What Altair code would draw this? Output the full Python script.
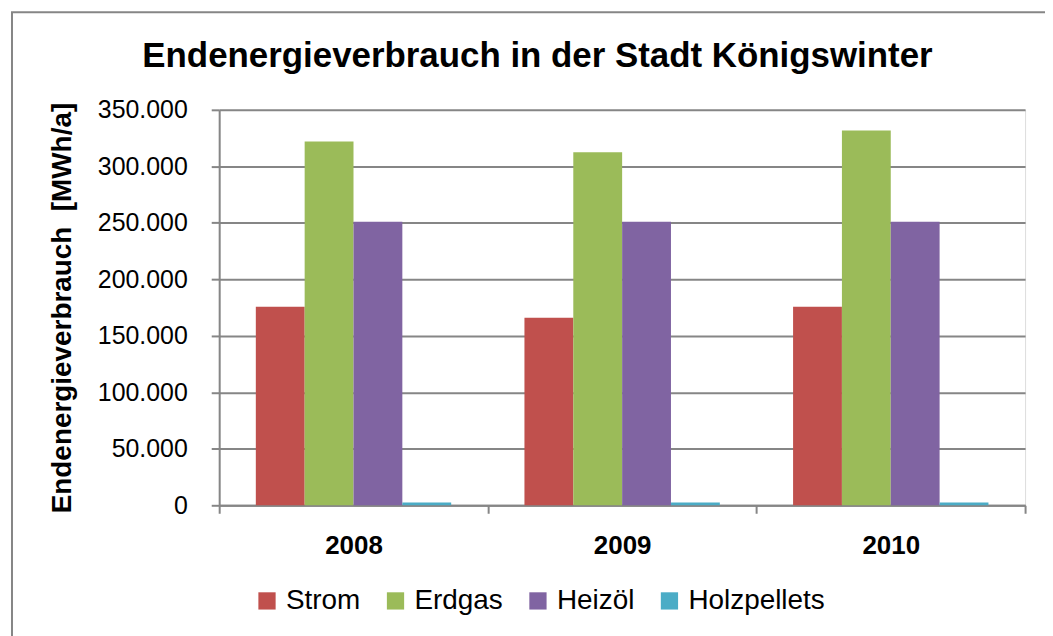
import altair as alt
import pandas as pd

years = ["2008", "2009", "2010"]
carriers = ["Strom", "Erdgas", "Heizöl", "Holzpellets"]
strom = [175700, 166000, 175700]
erdgas = [322000, 312500, 331600]
heizoel = [251000, 251000, 251000]
holzpellets = [2500, 2500, 2500]
colors = ["#C0504D", "#9BBB59", "#8064A2", "#4BACC6"]
y_ticks = [0, 50000, 100000, 150000, 200000, 250000, 300000, 350000]

series = {"Strom": strom, "Erdgas": erdgas, "Heizöl": heizoel, "Holzpellets": holzpellets}
rows = []
for c in carriers:
    for y, v in zip(years, series[c]):
        rows.append({"Jahr": y, "Träger": c, "Wert": v})
df = pd.DataFrame(rows)

FONT = "Liberation Sans"
GRAY = "#868686"
W, H = 809, 397

bars = alt.Chart(df).mark_bar().encode(
    x=alt.X("Jahr:N", sort=years,
            scale=alt.Scale(paddingInner=0, paddingOuter=0),
            axis=alt.Axis(title=None, tickBand="extent", labelAngle=0,
                          labelFont=FONT, labelFontSize=26, labelFontWeight="bold",
                          labelColor="#000000", labelBaseline="alphabetic",
                          labelPadding=40, tickSize=8, tickColor=GRAY,
                          tickWidth=2, domainColor=GRAY, domainWidth=2)),
    xOffset=alt.XOffset("Träger:N", sort=carriers,
                        scale=alt.Scale(paddingInner=0, paddingOuter=0.75)),
    y=alt.Y("Wert:Q",
            scale=alt.Scale(domain=[0, 350000], nice=False),
            axis=alt.Axis(title="Endenergieverbrauch\u00a0 [MWh/a]", values=y_ticks,
                          labelExpr="replace(format(datum.value, ','), ',', '.')",
                          labelFont=FONT, labelFontSize=25, labelColor="#000000",
                          labelPadding=24, tickSize=8, tickColor=GRAY, tickWidth=2,
                          domainColor=GRAY, domainWidth=2,
                          grid=True, gridColor=GRAY, gridWidth=2,
                          titleFont=FONT, titleFontSize=28, titleFontWeight="bold",
                          titleColor="#000000", titleX=-149, titleY=H / 2,
                          titleAngle=-90, titleBaseline="alphabetic", titleAlign="center")),
    color=alt.Color("Träger:N", sort=carriers,
                    scale=alt.Scale(domain=carriers, range=colors),
                    legend=alt.Legend(title=None, orient="none", direction="horizontal",
                                      legendX=34, legendY=479, padding=0,
                                      symbolType="square", symbolSize=300,
                                      symbolStrokeWidth=0, symbolOpacity=1,
                                      labelFont=FONT, labelFontSize=28,
                                      labelColor="#000000", labelOffset=5,
                                      columnPadding=21)),
)

frame = alt.Chart(pd.DataFrame({"k": [0]})).mark_rect(
    fill=None, stroke=GRAY, strokeWidth=2, clip=False
).encode(
    x=alt.value(-208), x2=alt.value(W + 80),
    y=alt.value(-98), y2=alt.value(H + 160),
)

chart = alt.layer(frame, bars).properties(
    width=W, height=H,
    title=alt.TitleParams("Endenergieverbrauch in der Stadt Königswinter",
                          font=FONT, fontSize=35, fontWeight="bold", color="#000000",
                          anchor="middle", dx=-85, baseline="alphabetic", offset=-91),
    padding={"left": 212, "top": 101, "right": 20, "bottom": 130},
    autosize=alt.AutoSizeParams(type="none"),
).configure_view(stroke=None).configure(background="#ffffff")

chart.save("out.html", embed_options={"renderer": "svg", "actions": False})
